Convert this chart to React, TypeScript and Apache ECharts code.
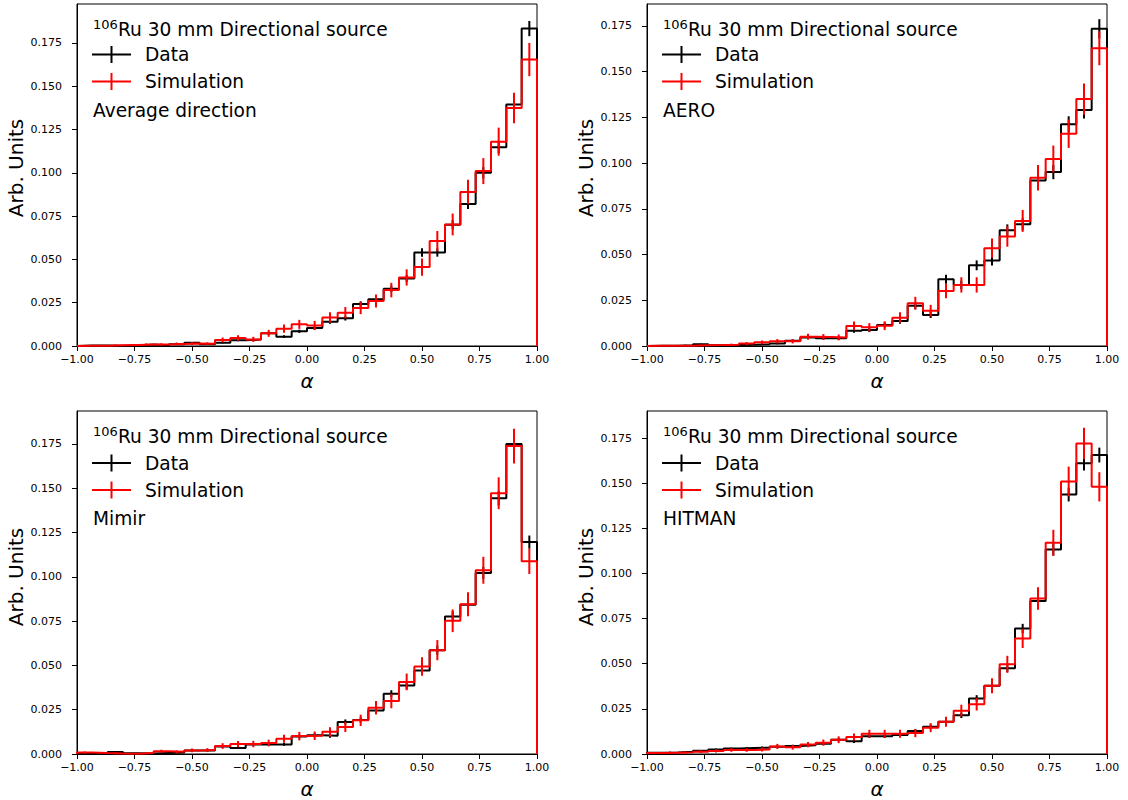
import React, { useEffect, useRef } from "react";
import * as echarts from "echarts";

const X_MIN = -1;
const X_MAX = 1;
const N_BINS = 30;

const X_TICKS = [-1, -0.75, -0.5, -0.25, 0, 0.25, 0.5, 0.75, 1];
const Y_TICKS = [0, 0.025, 0.05, 0.075, 0.1, 0.125, 0.15, 0.175];

const TITLE_SUP = "106";
const TITLE_MAIN = "Ru 30 mm Directional source";
const LEGEND_NAMES = ["Data", "Simulation"];
const PANEL_LABELS = ["Average direction", "AERO", "Mimir", "HITMAN"];

// Average direction
const avgData = [0.0003, 0.0003, 0.0001, 0.0005, 0.0008, 0.0005, 0.001, 0.0019, 0.001, 0.0019, 0.0033, 0.0037, 0.0073, 0.0054, 0.0085, 0.0104, 0.014, 0.016, 0.0242, 0.027, 0.033, 0.039, 0.054, 0.054, 0.07, 0.082, 0.1, 0.1148, 0.1394, 0.1833];
const avgDataErr = [0.00018, 0.00018, 0.0001, 0.00023, 0.00029, 0.00023, 0.00033, 0.00045, 0.00033, 0.00045, 0.00059, 0.00063, 0.00088, 0.00076, 0.00095, 0.00105, 0.00122, 0.0013, 0.0016, 0.0017, 0.0019, 0.002, 0.0024, 0.0024, 0.0027, 0.0029, 0.0033, 0.0035, 0.0038, 0.0044];
const avgSim = [0.0002, 0.0002, 0.0004, 0.0006, 0.0008, 0.0009, 0.0012, 0.0014, 0.0013, 0.0035, 0.0046, 0.0038, 0.0073, 0.01, 0.0125, 0.0119, 0.0165, 0.0192, 0.0219, 0.026, 0.0323, 0.0396, 0.0456, 0.0606, 0.0702, 0.089, 0.101, 0.118, 0.1375, 0.1654];
const avgSimErr = [0.00033, 0.00033, 0.00047, 0.00058, 0.00067, 0.00071, 0.00082, 0.00088, 0.00085, 0.0014, 0.0016, 0.0015, 0.002, 0.0024, 0.0026, 0.0026, 0.003, 0.0033, 0.0035, 0.0038, 0.0042, 0.0047, 0.005, 0.0058, 0.0063, 0.007, 0.0075, 0.0081, 0.0088, 0.0096];

// AERO
const aeroData = [0.0001, 0.0002, 0.0004, 0.0009, 0.0004, 0.0005, 0.0007, 0.0009, 0.0014, 0.0029, 0.0046, 0.0042, 0.0042, 0.0084, 0.0088, 0.0115, 0.0137, 0.022, 0.017, 0.0365, 0.0334, 0.0441, 0.0467, 0.0633, 0.0666, 0.0905, 0.0951, 0.1212, 0.129, 0.1734];
const aeroDataErr = [0.00013, 0.00018, 0.00025, 0.00038, 0.00025, 0.00028, 0.00034, 0.00038, 0.00048, 0.00068, 0.00086, 0.00082, 0.00082, 0.0012, 0.0012, 0.0014, 0.0015, 0.0019, 0.0017, 0.0024, 0.0023, 0.0027, 0.0027, 0.0032, 0.0033, 0.0038, 0.0039, 0.0044, 0.0046, 0.0053];
const aeroSim = [0.0001, 0.0001, 0.0002, 0.0004, 0.0005, 0.0007, 0.0013, 0.002, 0.0026, 0.0026, 0.0051, 0.0049, 0.0047, 0.011, 0.0102, 0.0111, 0.0155, 0.0234, 0.0193, 0.0301, 0.0334, 0.0334, 0.0535, 0.0599, 0.0684, 0.092, 0.1022, 0.1161, 0.135, 0.1628];
const aeroSimErr = [0.00023, 0.00023, 0.00033, 0.00046, 0.00051, 0.00061, 0.00083, 0.001, 0.0012, 0.0012, 0.0016, 0.0016, 0.0016, 0.0024, 0.0023, 0.0024, 0.0029, 0.0035, 0.0032, 0.004, 0.0042, 0.0042, 0.0053, 0.0056, 0.006, 0.007, 0.0074, 0.0078, 0.0085, 0.0093];

// Mimir
const mimirData = [0.0003, 0.0005, 0.0011, 0.0004, 0.0003, 0.0006, 0.0008, 0.002, 0.002, 0.0043, 0.0034, 0.0054, 0.0054, 0.0054, 0.0099, 0.0106, 0.0103, 0.0181, 0.0192, 0.0246, 0.034, 0.0386, 0.0472, 0.0586, 0.0776, 0.0843, 0.1022, 0.1444, 0.175, 0.1196];
const mimirDataErr = [0.00019, 0.00024, 0.00035, 0.00021, 0.00019, 0.00026, 0.0003, 0.00048, 0.00048, 0.0007, 0.00062, 0.00079, 0.00079, 0.00079, 0.0011, 0.0011, 0.0011, 0.0014, 0.0015, 0.0017, 0.002, 0.0021, 0.0023, 0.0026, 0.003, 0.0031, 0.0034, 0.0041, 0.0045, 0.0037];
const mimirSim = [0.0008, 0.0005, 0.0003, 0.0002, 0.0005, 0.0015, 0.0012, 0.002, 0.0022, 0.0045, 0.0056, 0.0056, 0.0062, 0.0086, 0.0101, 0.0103, 0.0125, 0.0153, 0.019, 0.0261, 0.0299, 0.0407, 0.0494, 0.0586, 0.0752, 0.0845, 0.1037, 0.1472, 0.1738, 0.1088];
const mimirSimErr = [0.00066, 0.00053, 0.00041, 0.00033, 0.00053, 0.00091, 0.00081, 0.00105, 0.0011, 0.0016, 0.0018, 0.0018, 0.0019, 0.0022, 0.0024, 0.0024, 0.0026, 0.0029, 0.0032, 0.0038, 0.0041, 0.0047, 0.0052, 0.0057, 0.0064, 0.0068, 0.0076, 0.009, 0.0098, 0.0072];

// HITMAN
const hitmanData = [0.0007, 0.0009, 0.0012, 0.0018, 0.0025, 0.003, 0.0033, 0.0035, 0.004, 0.0045, 0.0048, 0.0057, 0.0079, 0.007, 0.0099, 0.0099, 0.0105, 0.0127, 0.0151, 0.0179, 0.0214, 0.0308, 0.0378, 0.0475, 0.0695, 0.0848, 0.1133, 0.1437, 0.1611, 0.1656];
const hitmanDataErr = [0.00026, 0.0003, 0.00035, 0.00042, 0.0005, 0.00055, 0.00057, 0.00059, 0.00063, 0.00067, 0.00069, 0.00075, 0.00089, 0.00084, 0.001, 0.001, 0.001, 0.0011, 0.0012, 0.0013, 0.0015, 0.0018, 0.0019, 0.0022, 0.0026, 0.0029, 0.0034, 0.0038, 0.004, 0.0041];
const hitmanSim = [0.0005, 0.0007, 0.0009, 0.0013, 0.0017, 0.0022, 0.0022, 0.0025, 0.0042, 0.0037, 0.0052, 0.0063, 0.0079, 0.0094, 0.0112, 0.0112, 0.0112, 0.0116, 0.0146, 0.0179, 0.024, 0.0276, 0.0378, 0.0497, 0.064, 0.0861, 0.117, 0.151, 0.172, 0.148];
const hitmanSimErr = [0.00047, 0.00056, 0.00063, 0.00076, 0.00087, 0.00098, 0.00098, 0.00105, 0.0014, 0.0013, 0.0015, 0.0017, 0.0019, 0.002, 0.0022, 0.0022, 0.0022, 0.0023, 0.0025, 0.0028, 0.0033, 0.0035, 0.0041, 0.0047, 0.0053, 0.0062, 0.0072, 0.0082, 0.0087, 0.0081];

const PANELS = [
  { label: PANEL_LABELS[0], data: avgData, dataErr: avgDataErr, sim: avgSim, simErr: avgSimErr },
  { label: PANEL_LABELS[1], data: aeroData, dataErr: aeroDataErr, sim: aeroSim, simErr: aeroSimErr },
  { label: PANEL_LABELS[2], data: mimirData, dataErr: mimirDataErr, sim: mimirSim, simErr: mimirSimErr },
  { label: PANEL_LABELS[3], data: hitmanData, dataErr: hitmanDataErr, sim: hitmanSim, simErr: hitmanSimErr },
];

// layout
const GRIDS = [
  { left: 77, top: 4, width: 460, height: 342 },
  { left: 647, top: 4, width: 460, height: 342 },
  { left: 77, top: 411, width: 460, height: 343 },
  { left: 647, top: 411, width: 460, height: 343 },
];
const Y_MAX = [0.1975, 0.187, 0.1936, 0.19];
const ROW_TEXT_Y = [
  { title: 29, data: 54.5, sim: 81.5, label: 110.5, alpha: 381, ylab: 168 },
  { title: 436, data: 463, sim: 490, label: 518.5, alpha: 789, ylab: 577 },
];
const FONT = "DejaVu Sans";
const BLACK = "#000000";
const RED = "#ff0000";

const binW = (X_MAX - X_MIN) / N_BINS;
function edge(i: number) {
  return X_MIN + i * binW;
}
function stepPoints(vals: number[]) {
  const pts: number[][] = [[X_MIN, 0]];
  vals.forEach((v, i) => pts.push([edge(i), v]));
  pts.push([X_MAX, vals[vals.length - 1]]);
  pts.push([X_MAX, 0]);
  return pts;
}
function errPoints(vals: number[], errs: number[]) {
  return vals.map((v, i) => [edge(i) + binW / 2, v, errs[i]]);
}
function fmtX(v: number) {
  const s = Math.abs(v).toFixed(2);
  return v < 0 ? "\u2212" + s : s;
}

function buildOption() {
  const grid = GRIDS.map((g) => ({
    ...g,
    show: true,
    borderColor: BLACK,
    borderWidth: 1,
    backgroundColor: "transparent",
    containLabel: false,
  }));
  const xAxis = GRIDS.map((_, i) => ({
    type: "value",
    gridIndex: i,
    min: X_MIN,
    max: X_MAX,
    splitLine: { show: false },
    axisLine: { show: true, onZero: false, lineStyle: { color: BLACK, width: 1 } },
    axisTick: { show: true, inside: false, length: 5, lineStyle: { color: BLACK, width: 1 }, customValues: X_TICKS },
    axisLabel: { show: true, color: BLACK, fontFamily: FONT, fontSize: 11, margin: 8, formatter: fmtX, customValues: X_TICKS },
  }));
  const yAxis = GRIDS.map((_, i) => ({
    type: "value",
    gridIndex: i,
    min: 0,
    max: Y_MAX[i],
    splitLine: { show: false },
    axisLine: { show: true, onZero: false, lineStyle: { color: BLACK, width: 1 } },
    axisTick: { show: true, inside: false, length: 5, lineStyle: { color: BLACK, width: 1 }, customValues: Y_TICKS },
    axisLabel: { show: true, color: BLACK, fontFamily: FONT, fontSize: 11, margin: 15, formatter: (v: number) => v.toFixed(3), customValues: Y_TICKS },
  }));

  const makeErr = (color: string) => (params: any, api: any) => {
    const x = api.value(0);
    const y = api.value(1);
    const e = api.value(2);
    const p1 = api.coord([x, y - e]);
    const p2 = api.coord([x, y + e]);
    return {
      type: "line",
      shape: { x1: p1[0], y1: p1[1], x2: p2[0], y2: p2[1] },
      style: { stroke: color, lineWidth: 2 },
    };
  };

  const series: any[] = [];
  PANELS.forEach((p, i) => {
    series.push({
      type: "line",
      name: LEGEND_NAMES[0],
      xAxisIndex: i,
      yAxisIndex: i,
      data: stepPoints(p.data),
      step: "end",
      symbol: "none",
      showSymbol: false,
      silent: true,
      clip: false,
      lineStyle: { color: BLACK, width: 2 },
      itemStyle: { color: BLACK },
      z: 2,
    });
    series.push({
      type: "custom",
      xAxisIndex: i,
      yAxisIndex: i,
      data: errPoints(p.data, p.dataErr),
      encode: { x: 0, y: 1 },
      renderItem: makeErr(BLACK),
      silent: true,
      z: 3,
    });
    series.push({
      type: "line",
      name: LEGEND_NAMES[1],
      xAxisIndex: i,
      yAxisIndex: i,
      data: stepPoints(p.sim),
      step: "end",
      symbol: "none",
      showSymbol: false,
      silent: true,
      clip: false,
      lineStyle: { color: RED, width: 2 },
      itemStyle: { color: RED },
      z: 4,
    });
    series.push({
      type: "custom",
      xAxisIndex: i,
      yAxisIndex: i,
      data: errPoints(p.sim, p.simErr),
      encode: { x: 0, y: 1 },
      renderItem: makeErr(RED),
      silent: true,
      z: 5,
    });
  });

  const graphic: any[] = [];
  PANELS.forEach((p, i) => {
    const g = GRIDS[i];
    const ox = g.left - 77;
    const row = ROW_TEXT_Y[i < 2 ? 0 : 1];
    const txt = (text: string, x: number, y: number, size: number, extra: any = {}) => ({
      type: "text",
      x,
      y,
      silent: true,
      z: 100,
      style: {
        text,
        fill: BLACK,
        font: `${extra.italic ? "italic " : ""}${size}px '${FONT}'`,
        fontFamily: FONT,
        fontSize: size,
        fontStyle: extra.italic ? "italic" : "normal",
        align: extra.align || "left",
        textAlign: extra.align || "left",
        verticalAlign: "middle",
        textVerticalAlign: "middle",
      },
      rotation: extra.rotation || 0,
    });
    graphic.push(txt(TITLE_SUP, 93 + ox, row.title - 5, 13));
    graphic.push(txt(TITLE_MAIN, 118 + ox, row.title, 18.6));
    const legendRows = [
      { name: LEGEND_NAMES[0], y: row.data, color: BLACK },
      { name: LEGEND_NAMES[1], y: row.sim, color: RED },
    ];
    legendRows.forEach((r) => {
      graphic.push({
        type: "line",
        silent: true,
        z: 100,
        shape: { x1: 92 + ox, y1: r.y, x2: 131 + ox, y2: r.y },
        style: { stroke: r.color, lineWidth: 2 },
      });
      graphic.push({
        type: "line",
        silent: true,
        z: 100,
        shape: { x1: 111.5 + ox, y1: r.y - 8.5, x2: 111.5 + ox, y2: r.y + 8.5 },
        style: { stroke: r.color, lineWidth: 2 },
      });
      graphic.push(txt(r.name, 145 + ox, r.y, 18.6));
    });
    graphic.push(txt(p.label, 93 + ox, row.label, 18.6));
    graphic.push(txt("Arb. Units", 16 + ox, row.ylab, 20, { align: "center", rotation: Math.PI / 2 }));
    graphic.push(txt("\u03b1", g.left + g.width / 2, row.alpha, 20, { align: "center", italic: true }));
  });

  return {
    animation: false,
    backgroundColor: "#ffffff",
    grid,
    xAxis,
    yAxis,
    series,
    graphic,
  };
}

export default function App() {
  const ref = useRef<HTMLDivElement>(null);
  useEffect(() => {
    if (!ref.current) return;
    const chart = echarts.init(ref.current, null, { renderer: "svg" });
    chart.setOption(buildOption() as any);
    return () => {
      chart.dispose();
    };
  }, []);
  return (
    <div
      ref={ref}
      style={{ position: "absolute", left: 0, top: 0, width: 1128, height: 800, background: "#ffffff" }}
    />
  );
}
